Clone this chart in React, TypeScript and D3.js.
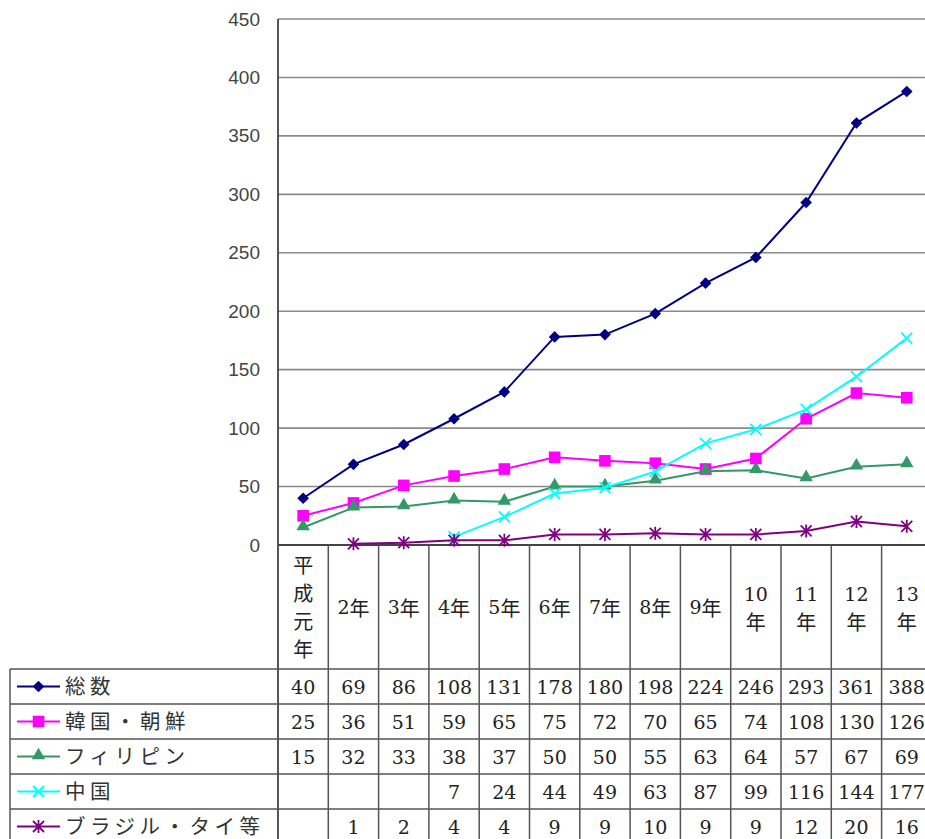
import React from "react";
import * as d3 from "d3";

// Fiscal-year categories (平成元年 … 13年)
const categories = ["平成元年", "2年", "3年", "4年", "5年", "6年", "7年", "8年", "9年", "10年", "11年", "12年", "13年"];

const seriesNames = ["総数", "韓国・朝鮮", "フィリピン", "中国", "ブラジル・タイ等"];

const totalValues: (number | null)[] = [40, 69, 86, 108, 131, 178, 180, 198, 224, 246, 293, 361, 388];
const koreaValues: (number | null)[] = [25, 36, 51, 59, 65, 75, 72, 70, 65, 74, 108, 130, 126];
const philippinesValues: (number | null)[] = [15, 32, 33, 38, 37, 50, 50, 55, 63, 64, 57, 67, 69];
const chinaValues: (number | null)[] = [null, null, null, 7, 24, 44, 49, 63, 87, 99, 116, 144, 177];
const brazilThaiValues: (number | null)[] = [null, 1, 2, 4, 4, 9, 9, 10, 9, 9, 12, 20, 16];

const yTicks = [0, 50, 100, 150, 200, 250, 300, 350, 400, 450];

type MarkerKind = "diamond" | "square" | "triangle" | "x" | "asterisk";

const series = [
  { name: seriesNames[0], values: totalValues, color: "#000080", marker: "diamond" as MarkerKind },
  { name: seriesNames[1], values: koreaValues, color: "#FF00FF", marker: "square" as MarkerKind },
  { name: seriesNames[2], values: philippinesValues, color: "#339966", marker: "triangle" as MarkerKind },
  { name: seriesNames[3], values: chinaValues, color: "#00FFFF", marker: "x" as MarkerKind },
  { name: seriesNames[4], values: brazilThaiValues, color: "#800080", marker: "asterisk" as MarkerKind },
];

const W = 925;
const H = 839;
const plotLeft = 278;
const colW = 50.3;
const plotTop = 19;
const plotBottom = 545;
const tableTop = 669;
const rowH = 35;
const tableLeft = 10;

const x = d3
  .scaleBand<string>()
  .domain(categories)
  .range([plotLeft, plotLeft + colW * categories.length])
  .paddingInner(0)
  .paddingOuter(0);

const y = d3.scaleLinear().domain([0, 450]).range([plotBottom, plotTop]);

const cx = (c: string) => (x(c) as number) + x.bandwidth() / 2;

const gridColor = "#8a8a8a";
const tableColor = "#555";
const textColor = "#222";
const cjkFont = "'Noto Sans CJK JP', sans-serif";
const numFont = "'DejaVu Serif', serif";

function Marker({ kind, color, px, py }: { kind: MarkerKind; color: string; px: number; py: number }) {
  const t = `translate(${px},${py})`;
  if (kind === "diamond") {
    return <path transform={`${t} rotate(45)`} d={d3.symbol().type(d3.symbolSquare).size(68)() as string} fill={color} />;
  }
  if (kind === "square") {
    return <path transform={t} d={d3.symbol().type(d3.symbolSquare).size(135)() as string} fill={color} />;
  }
  if (kind === "triangle") {
    return <path transform={`${t} translate(0,-1)`} d={d3.symbol().type(d3.symbolTriangle).size(78)() as string} fill={color} />;
  }
  const r = 5.5;
  const p = d3.path();
  p.moveTo(-r, -r);
  p.lineTo(r, r);
  p.moveTo(-r, r);
  p.lineTo(r, -r);
  if (kind === "asterisk") {
    p.moveTo(0, -r - 1);
    p.lineTo(0, r + 1);
  }
  return <path transform={t} d={p.toString()} stroke={color} strokeWidth={1.8} fill="none" />;
}

function HeaderLabel({ label, c }: { label: string; c: number }) {
  const style = { fontFamily: cjkFont, fontSize: 20, fill: textColor };
  if (label === "平成元年") {
    const ys = [564, 592, 620, 648];
    return (
      <g>
        {label.split("").map((ch, i) => (
          <text key={i} x={c} y={ys[i]} textAnchor="middle" dominantBaseline="central" style={style}>
            {ch}
          </text>
        ))}
      </g>
    );
  }
  const num = label.replace("年", "");
  if (num.length >= 2) {
    return (
      <g>
        <text x={c} y={594} textAnchor="middle" dominantBaseline="central" style={{ fontFamily: numFont, fontSize: 19, fill: textColor }}>
          {num}
        </text>
        <text x={c} y={621} textAnchor="middle" dominantBaseline="central" style={style}>
          年
        </text>
      </g>
    );
  }
  return (
    <text x={c} y={607} textAnchor="middle" dominantBaseline="central" style={style}>
      <tspan style={{ fontFamily: numFont, fontSize: 19 }}>{num}</tspan>
      <tspan>年</tspan>
    </text>
  );
}

export default function App() {
  const right = W + 20;
  const line = d3
    .line<number | null>()
    .defined((d) => d !== null)
    .x((_, i) => cx(categories[i]))
    .y((d) => y(d as number));

  const bottom = H + 10;

  return (
    <svg width={W} height={H} style={{ position: "absolute", left: 0, top: 0, background: "#fff" }}>
      {/* horizontal gridlines */}
      {yTicks
        .filter((t) => t > 0)
        .map((t) => (
          <line key={t} x1={plotLeft} x2={right} y1={y(t)} y2={y(t)} stroke={gridColor} strokeWidth={1.6} />
        ))}
      {/* y tick labels */}
      {yTicks.map((t) => (
        <text
          key={t}
          x={260}
          y={y(t)}
          textAnchor="end"
          dominantBaseline="central"
          style={{ fontFamily: "'Liberation Sans', Arial, sans-serif", fontSize: 19, fill: "#444" }}
        >
          {t}
        </text>
      ))}

      {/* table grid */}
      <line x1={plotLeft} x2={plotLeft} y1={plotTop} y2={bottom} stroke="#444" strokeWidth={1.8} />
      <line x1={plotLeft} x2={right} y1={plotBottom} y2={plotBottom} stroke="#444" strokeWidth={1.8} />
      {categories.slice(1).map((c) => (
        <line key={c} x1={x(c) as number} x2={x(c) as number} y1={plotBottom} y2={bottom} stroke={tableColor} strokeWidth={1.5} />
      ))}
      {series.map((_, i) => (
        <line key={i} x1={tableLeft} x2={right} y1={tableTop + i * rowH} y2={tableTop + i * rowH} stroke={tableColor} strokeWidth={1.5} />
      ))}
      <line x1={tableLeft} x2={tableLeft} y1={tableTop} y2={bottom} stroke={tableColor} strokeWidth={1.5} />

      {/* header labels */}
      {categories.map((c) => (
        <HeaderLabel key={c} label={c} c={cx(c)} />
      ))}

      {/* series lines and markers */}
      {series.map((s) => (
        <g key={s.name}>
          <path d={line(s.values) as string} fill="none" stroke={s.color} strokeWidth={2} />
          {s.values.map((v, i) =>
            v === null ? null : <Marker key={i} kind={s.marker} color={s.color} px={cx(categories[i])} py={y(v)} />
          )}
        </g>
      ))}

      {/* data table rows */}
      {series.map((s, r) => {
        const cyRow = tableTop + r * rowH + rowH / 2;
        return (
          <g key={s.name}>
            <line x1={17} x2={60} y1={cyRow} y2={cyRow} stroke={s.color} strokeWidth={2} />
            <Marker kind={s.marker} color={s.color} px={38.5} py={cyRow} />
            <text
              x={65}
              y={cyRow - 1.5}
              dominantBaseline="central"
              style={{ fontFamily: cjkFont, fontSize: 20.5, letterSpacing: 4.5, fill: "#333" }}
            >
              {s.name}
            </text>
            {s.values.map((v, i) =>
              v === null ? null : (
                <text
                  key={i}
                  x={cx(categories[i])}
                  y={cyRow + 0.5}
                  textAnchor="middle"
                  dominantBaseline="central"
                  style={{ fontFamily: numFont, fontSize: 19, fill: textColor }}
                >
                  {v}
                </text>
              )
            )}
          </g>
        );
      })}
    </svg>
  );
}
